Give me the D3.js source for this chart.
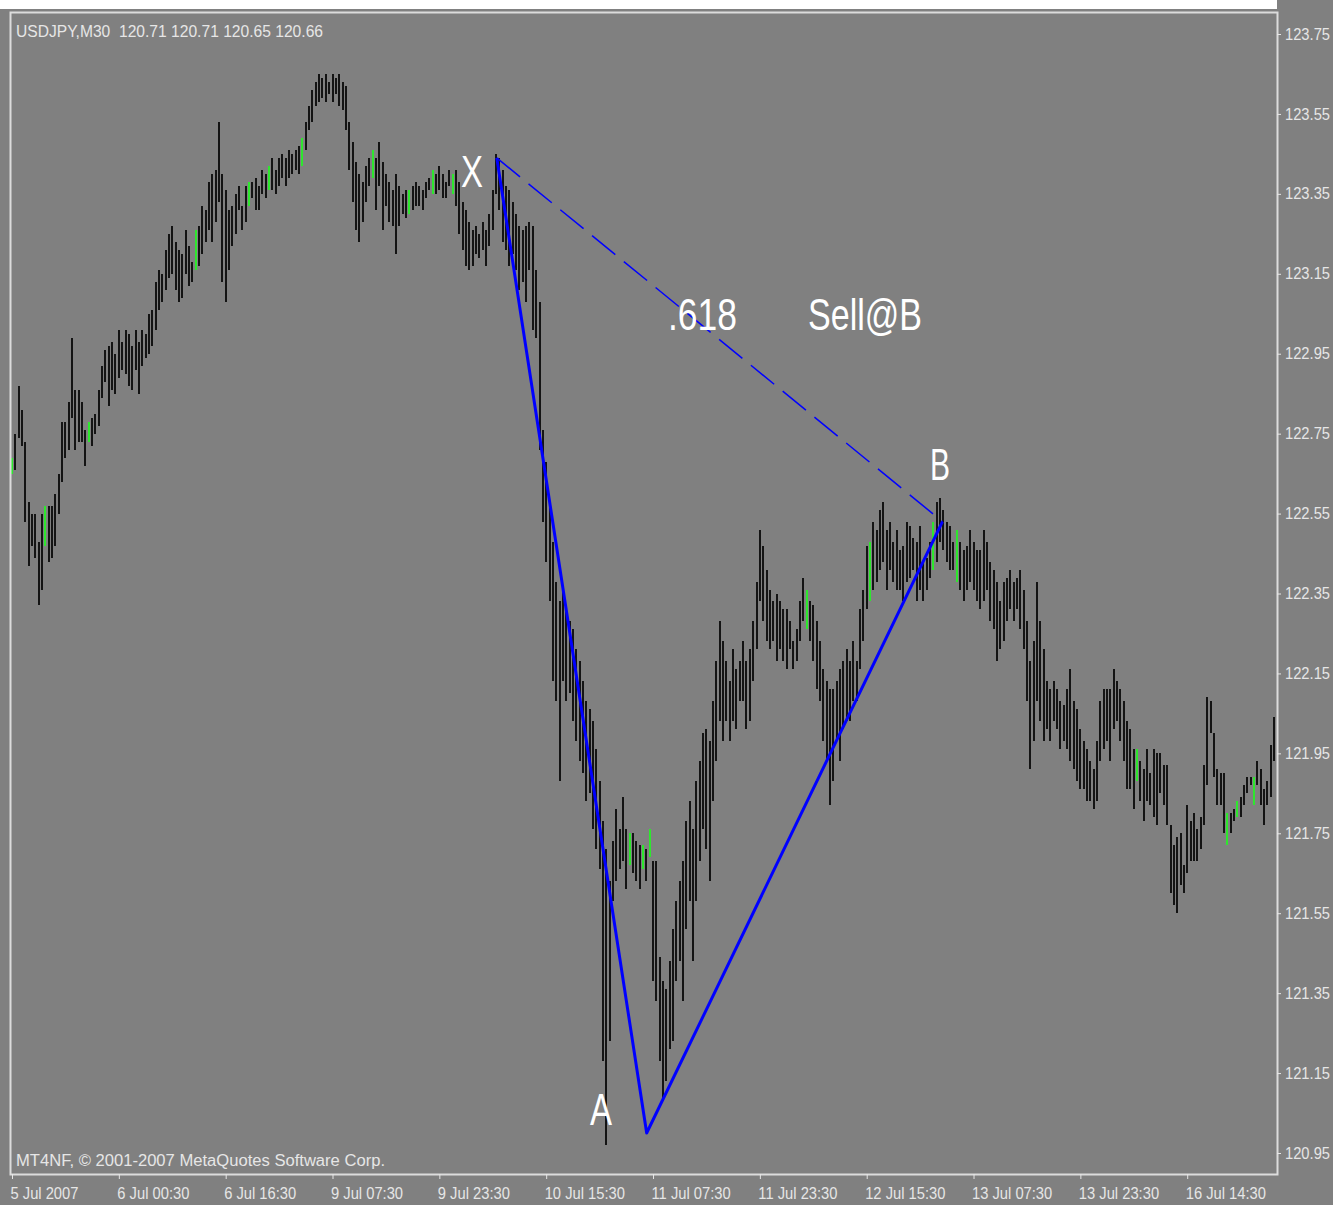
<!DOCTYPE html>
<html>
<head>
<meta charset="utf-8">
<script src="https://cdn.jsdelivr.net/npm/d3@7"></script>
<style>
  body { margin: 0; background: #808080; }
  svg { display: block; }
</style>
</head>
<body>
<svg id="chart"></svg>
<script>
const symbolLabel = 'USDJPY,M30  120.71 120.71 120.65 120.66';
const copyright = 'MT4NF, © 2001-2007 MetaQuotes Software Corp.';

const timeLabels = ['5 Jul 2007', '6 Jul 00:30', '6 Jul 16:30', '9 Jul 07:30', '9 Jul 23:30', '10 Jul 15:30',
  '11 Jul 07:30', '11 Jul 23:30', '12 Jul 15:30', '13 Jul 07:30', '13 Jul 23:30', '16 Jul 14:30'];
const barsPerLabel = 32;

const priceTicks = [120.95, 121.15, 121.35, 121.55, 121.75, 121.95, 122.15, 122.35,
  122.55, 122.75, 122.95, 123.15, 123.35, 123.55, 123.75];

// M30 bars, high / low
const highs = [
  122.69,122.75,122.87,122.81,122.73,122.58,122.55,122.55,122.48,122.55,
  122.57,122.57,122.57,122.60,122.65,122.78,122.78,122.83,122.99,122.86,
  122.86,122.83,122.76,122.78,122.79,122.80,122.86,122.92,122.96,122.97,
  122.98,122.95,123.01,122.98,123.01,123.00,122.97,123.01,122.98,123.01,
  123.00,123.05,123.06,123.13,123.16,123.15,123.21,123.25,123.27,123.23,
  123.21,123.20,123.26,123.22,123.18,123.26,123.27,123.32,123.31,123.38,
  123.40,123.41,123.53,123.40,123.36,123.31,123.32,123.35,123.37,123.32,
  123.37,123.38,123.38,123.39,123.37,123.41,123.40,123.42,123.44,123.41,
  123.44,123.45,123.44,123.46,123.45,123.46,123.47,123.49,123.53,123.57,
  123.61,123.63,123.65,123.64,123.65,123.63,123.65,123.64,123.65,123.63,
  123.62,123.53,123.48,123.43,123.40,123.38,123.42,123.44,123.46,123.44,
  123.48,123.43,123.40,123.38,123.36,123.40,123.37,123.35,123.36,123.36,
  123.37,123.38,123.37,123.36,123.38,123.39,123.41,123.40,123.42,123.40,
  123.38,123.41,123.40,123.41,123.38,123.33,123.31,123.28,123.26,123.27,
  123.25,123.28,123.26,123.30,123.36,123.45,123.44,123.41,123.37,123.36,
  123.33,123.30,123.27,123.26,123.27,123.28,123.27,123.16,123.08,122.76,
  122.68,122.58,122.48,122.38,122.33,122.36,122.31,122.28,122.26,122.21,
  122.18,122.13,122.08,122.06,122.03,121.96,121.88,121.78,121.71,121.63,
  121.73,121.81,121.76,121.84,121.76,121.75,121.75,121.73,121.72,121.72,
  121.71,121.76,121.68,121.68,121.44,121.38,121.36,121.43,121.51,121.58,
  121.63,121.68,121.78,121.83,121.76,121.88,121.93,122.00,122.01,121.98,
  122.08,122.18,122.28,122.23,122.18,122.13,122.21,122.16,122.18,122.23,
  122.18,122.21,122.28,122.38,122.51,122.47,122.41,122.36,122.33,122.35,
  122.33,122.31,122.31,122.28,122.23,122.26,122.33,122.39,122.36,122.33,
  122.32,122.28,122.23,122.16,122.13,122.11,122.11,122.13,122.16,122.18,
  122.21,122.18,122.23,122.18,122.31,122.36,122.47,122.48,122.53,122.51,
  122.56,122.58,122.51,122.53,122.48,122.51,122.46,122.47,122.53,122.52,
  122.49,122.48,122.52,122.43,122.44,122.48,122.53,122.58,122.59,122.56,
  122.53,122.52,122.48,122.51,122.48,122.46,122.47,122.51,122.48,122.46,
  122.46,122.51,122.48,122.43,122.41,122.38,122.33,122.38,122.39,122.41,
  122.38,122.39,122.41,122.36,122.28,122.18,122.23,122.38,122.28,122.21,
  122.13,122.11,122.13,122.11,122.08,122.07,122.11,122.16,122.08,122.06,
  122.01,121.98,121.96,121.93,121.91,121.98,122.08,122.11,122.11,122.11,
  122.16,122.13,122.11,122.08,122.03,122.01,121.96,121.96,121.93,121.91,
  121.96,121.90,121.96,121.95,121.95,121.92,121.92,121.77,121.72,121.74,
  121.75,121.67,121.82,121.78,121.80,121.76,121.79,121.92,122.09,122.08,
  122.00,121.91,121.90,121.90,121.80,121.80,121.81,121.83,121.84,121.87,
  121.89,121.89,121.89,121.93,121.91,121.86,121.88,121.97,122.04
];
const lows = [
  122.65,122.66,122.74,122.72,122.53,122.42,122.47,122.44,122.32,122.36,
  122.47,122.43,122.44,122.47,122.55,122.63,122.69,122.71,122.79,122.71,
  122.73,122.73,122.67,122.73,122.72,122.75,122.77,122.84,122.88,122.82,
  122.86,122.85,122.89,122.91,122.90,122.87,122.86,122.91,122.85,122.92,
  122.94,122.95,122.97,123.01,123.06,123.08,123.11,123.14,123.15,123.11,
  123.08,123.09,123.15,123.12,123.13,123.16,123.17,123.20,123.23,123.26,
  123.23,123.28,123.33,123.13,123.08,123.16,123.22,123.25,123.31,123.26,
  123.28,123.32,123.34,123.31,123.31,123.35,123.34,123.36,123.36,123.35,
  123.37,123.39,123.37,123.39,123.40,123.41,123.40,123.42,123.46,123.51,
  123.53,123.57,123.58,123.59,123.58,123.60,123.58,123.60,123.57,123.56,
  123.51,123.41,123.33,123.26,123.23,123.28,123.33,123.37,123.39,123.31,
  123.37,123.26,123.32,123.28,123.27,123.20,123.27,123.30,123.29,123.30,
  123.31,123.32,123.32,123.31,123.34,123.36,123.35,123.35,123.36,123.34,
  123.34,123.37,123.35,123.32,123.25,123.21,123.17,123.16,123.17,123.20,
  123.19,123.21,123.17,123.22,123.26,123.35,123.31,123.23,123.21,123.17,
  123.20,123.16,123.11,123.13,123.08,123.16,123.01,122.99,122.71,122.53,
  122.43,122.33,122.13,122.08,121.88,122.13,122.08,122.10,122.03,121.98,
  121.93,121.90,121.83,121.85,121.76,121.71,121.66,121.18,120.97,121.23,
  121.58,121.63,121.66,121.68,121.61,121.67,121.65,121.63,121.61,121.66,
  121.63,121.69,121.38,121.33,121.18,121.08,121.13,121.21,121.23,121.38,
  121.43,121.33,121.51,121.58,121.43,121.58,121.68,121.76,121.71,121.63,
  121.83,121.93,122.03,121.98,122.03,121.98,122.03,122.01,122.08,122.08,
  122.01,122.03,122.13,122.21,122.33,122.28,122.23,122.21,122.23,122.18,
  122.21,122.18,122.16,122.21,122.16,122.18,122.23,122.28,122.26,122.23,
  122.18,122.11,122.08,121.98,121.93,121.82,121.88,121.98,121.93,122.01,
  122.03,122.03,122.08,122.08,122.16,122.23,122.31,122.33,122.36,122.38,
  122.41,122.43,122.36,122.41,122.38,122.36,122.36,122.33,122.38,122.39,
  122.41,122.33,122.36,122.33,122.36,122.39,122.41,122.43,122.48,122.46,
  122.43,122.41,122.41,122.38,122.36,122.33,122.36,122.38,122.36,122.33,
  122.31,122.33,122.36,122.28,122.26,122.18,122.21,122.23,122.28,122.31,
  122.28,122.31,122.26,122.21,122.08,121.91,121.98,122.08,122.03,121.98,
  122.01,121.98,122.03,122.01,121.96,121.98,121.96,121.93,121.91,121.88,
  121.86,121.86,121.83,121.83,121.81,121.83,121.93,121.96,121.98,121.93,
  122.01,122.03,121.98,121.93,121.86,121.86,121.81,121.88,121.83,121.78,
  121.83,121.82,121.79,121.77,121.85,121.82,121.77,121.60,121.57,121.55,
  121.62,121.60,121.65,121.68,121.68,121.68,121.71,121.77,121.87,122.00,
  121.89,121.82,121.82,121.75,121.72,121.75,121.78,121.79,121.79,121.82,
  121.85,121.87,121.82,121.87,121.82,121.77,121.82,121.84,121.93
];
// bars drawn in the "bar up" colour
const greenBars = [0, 10, 23, 55, 71, 77, 87, 108, 119, 126, 132, 185, 189, 191, 238, 257, 276, 283, 337, 364, 367, 372];

// XAB pattern points (bar index, price)
const pattern = [
  { name: 'X', bar: 145.2, price: 123.44 },
  { name: 'A', bar: 190.1, price: 121.00 },
  { name: 'B', bar: 278.7, price: 122.53 }
];

const width = 1333, height = 1205;
const frame = { left: 10, top: 12, right: 1277, bottom: 1174 };
const textColor = '#e6e6e6';
const smallFont = '"Liberation Sans", Arial, sans-serif';

const svg = d3.select('#chart').attr('width', width).attr('height', height);

svg.append('rect').attr('width', width).attr('height', height).attr('fill', '#808080');
svg.append('rect').attr('width', frame.right).attr('height', 9).attr('fill', '#ffffff');

const x = d3.scaleLinear().domain([0, highs.length - 1]).range([12, 1274]);
const y = d3.scaleLinear().domain([120.95, 123.75]).range([1153, 34]);

// bars
svg.append('g')
  .selectAll('line')
  .data(highs.map((h, i) => ({ i, h, l: lows[i] })))
  .enter()
  .append('line')
  .attr('x1', d => Math.round(x(d.i)))
  .attr('x2', d => Math.round(x(d.i)))
  .attr('y1', d => Math.round(y(d.h)))
  .attr('y2', d => Math.round(y(d.l)))
  .attr('stroke', d => greenBars.includes(d.i) ? '#2ee62e' : '#141414')
  .attr('stroke-width', 2)
  .attr('shape-rendering', 'crispEdges');

// frame
svg.append('rect')
  .attr('x', frame.left + 0.5).attr('y', frame.top + 0.5)
  .attr('width', frame.right - frame.left).attr('height', frame.bottom - frame.top)
  .attr('fill', 'none').attr('stroke', '#dcdcdc').attr('stroke-width', 2);

// price axis
const yAxis = svg.append('g')
  .attr('transform', `translate(${frame.right},0)`)
  .call(d3.axisRight(y).tickValues(priceTicks).tickSize(4).tickPadding(4).tickFormat(d3.format('.2f')));
yAxis.select('.domain').remove();
yAxis.selectAll('line').attr('stroke', '#e6e6e6');
yAxis.selectAll('text')
  .attr('fill', textColor).attr('font-family', smallFont).attr('font-size', 16)
  .attr('textLength', 45).attr('lengthAdjust', 'spacingAndGlyphs');

// time axis
const xAxis = svg.append('g')
  .attr('transform', `translate(0,${frame.bottom})`)
  .call(d3.axisBottom(x)
    .tickValues(timeLabels.map((d, i) => i * barsPerLabel))
    .tickSize(5).tickPadding(9)
    .tickFormat((d, i) => timeLabels[i]));
xAxis.select('.domain').remove();
xAxis.selectAll('line').attr('stroke', '#e6e6e6');
xAxis.selectAll('text')
  .attr('fill', textColor).attr('font-family', smallFont).attr('font-size', 16)
  .attr('text-anchor', 'start').attr('dx', -2)
  .each(function () {
    const w = this.getComputedTextLength();
    d3.select(this).attr('textLength', w * 0.92).attr('lengthAdjust', 'spacingAndGlyphs');
  });

// header and footer texts
svg.append('text')
  .attr('x', 16).attr('y', 37)
  .attr('fill', textColor).attr('font-family', smallFont).attr('font-size', 16)
  .attr('textLength', 307).attr('lengthAdjust', 'spacingAndGlyphs')
  .attr('xml:space', 'preserve')
  .text(symbolLabel);

svg.append('text')
  .attr('x', 16).attr('y', 1166)
  .attr('fill', textColor).attr('font-family', smallFont).attr('font-size', 16)
  .attr('textLength', 369).attr('lengthAdjust', 'spacingAndGlyphs')
  .text(copyright);

// pattern lines
const line = d3.line().x(d => x(d.bar)).y(d => y(d.price));
svg.append('path')
  .attr('d', line(pattern))
  .attr('fill', 'none').attr('stroke', '#0000ff').attr('stroke-width', 3)
  .attr('stroke-linejoin', 'round');
svg.append('path')
  .attr('d', line([pattern[0], pattern[2]]))
  .attr('fill', 'none').attr('stroke', '#0000ff').attr('stroke-width', 1.5)
  .attr('stroke-dasharray', '30,11');

// annotations
const bigFont = '"Liberation Sans", Arial, sans-serif';
const notes = [
  { text: 'X', x: 461, y: 187, w: 22 },
  { text: 'A', x: 590, y: 1125, w: 22 },
  { text: 'B', x: 930, y: 480, w: 20 },
  { text: '.618', x: 668, y: 330, w: 69 },
  { text: 'Sell@B', x: 808, y: 330, w: 114 }
];
svg.append('g')
  .selectAll('text')
  .data(notes)
  .enter()
  .append('text')
  .attr('x', d => d.x).attr('y', d => d.y)
  .attr('fill', '#ffffff').attr('font-family', bigFont).attr('font-size', 44)
  .attr('textLength', d => d.w).attr('lengthAdjust', 'spacingAndGlyphs')
  .text(d => d.text);
</script>
</body>
</html>
